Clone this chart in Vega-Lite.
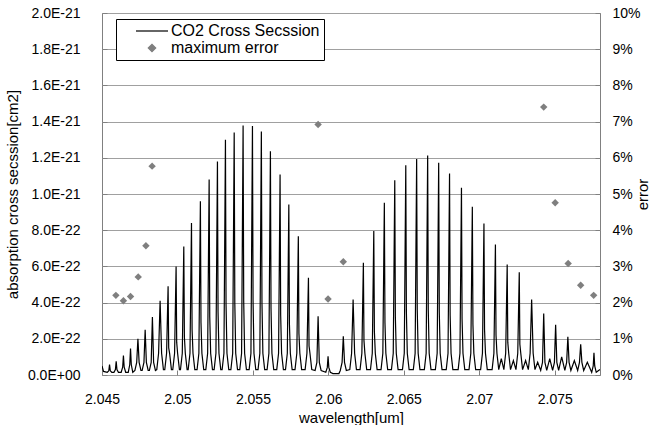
{
  "$schema": "https://vega.github.io/schema/vega-lite/v6.json",
  "width": 498,
  "height": 362,
  "autosize": "none",
  "padding": {"left": 102, "top": 13, "right": 60, "bottom": 50},
  "background": "white",
  "config": {
    "font": "Liberation Sans",
    "view": {"stroke": "#808080", "strokeWidth": 1},
    "axis": {"labelFont": "Liberation Sans", "titleFont": "Liberation Sans", "labelColor": "black", "titleColor": "black", "titleFontWeight": "normal", "domain": false},
    "legend": {"labelFont": "Liberation Sans"}
  },
  "datasets": {
    "spectrum": [
      {"wl":2.04500,"cs":0.05e-21},{"wl":2.04510,"cs":0.02e-21},
      {"wl":2.04535,"cs":0.015e-21},{"wl":2.04545,"cs":0.023e-21},{"wl":2.04550,"cs":0.058e-21},{"wl":2.04555,"cs":0.023e-21},{"wl":2.04565,"cs":0.015e-21},
      {"wl":2.04579,"cs":0.015e-21},{"wl":2.04589,"cs":0.03e-21},{"wl":2.04594,"cs":0.076e-21},{"wl":2.04599,"cs":0.03e-21},{"wl":2.04609,"cs":0.015e-21},
      {"wl":2.04627,"cs":0.015e-21},{"wl":2.04637,"cs":0.043e-21},{"wl":2.04642,"cs":0.108e-21},{"wl":2.04647,"cs":0.043e-21},{"wl":2.04657,"cs":0.015e-21},
      {"wl":2.04674,"cs":0.015e-21},{"wl":2.04684,"cs":0.058e-21},{"wl":2.04689,"cs":0.146e-21},{"wl":2.04694,"cs":0.058e-21},{"wl":2.04704,"cs":0.015e-21},
      {"wl":2.04718,"cs":0.025e-21},{"wl":2.04730,"cs":0.07e-21},{"wl":2.04738,"cs":0.2e-21},{"wl":2.04746,"cs":0.07e-21},{"wl":2.04758,"cs":0.025e-21},
      {"wl":2.04766,"cs":0.025e-21},{"wl":2.04778,"cs":0.07e-21},{"wl":2.04786,"cs":0.25e-21},{"wl":2.04794,"cs":0.07e-21},{"wl":2.04806,"cs":0.025e-21},
      {"wl":2.04814,"cs":0.025e-21},{"wl":2.04826,"cs":0.07e-21},{"wl":2.04834,"cs":0.32e-21},{"wl":2.04842,"cs":0.07e-21},{"wl":2.04854,"cs":0.025e-21},
      {"wl":2.04863,"cs":0.03e-21},{"wl":2.04875,"cs":0.12e-21},{"wl":2.04885,"cs":0.41e-21},{"wl":2.04895,"cs":0.12e-21},{"wl":2.04907,"cs":0.03e-21},
      {"wl":2.04916,"cs":0.03e-21},{"wl":2.04928,"cs":0.12e-21},{"wl":2.04938,"cs":0.49e-21},{"wl":2.04942,"cs":0.15e-21},{"wl":2.04948,"cs":0.12e-21},{"wl":2.04960,"cs":0.03e-21},
      {"wl":2.04969,"cs":0.03e-21},{"wl":2.04981,"cs":0.12e-21},{"wl":2.04991,"cs":0.6e-21},{"wl":2.04995,"cs":0.18e-21},{"wl":2.05001,"cs":0.12e-21},{"wl":2.05013,"cs":0.03e-21},
      {"wl":2.05020,"cs":0.03e-21},{"wl":2.05032,"cs":0.12e-21},{"wl":2.05042,"cs":0.71e-21},{"wl":2.05046,"cs":0.21e-21},{"wl":2.05052,"cs":0.12e-21},{"wl":2.05064,"cs":0.03e-21},
      {"wl":2.05071,"cs":0.03e-21},{"wl":2.05083,"cs":0.12e-21},{"wl":2.05093,"cs":0.84e-21},{"wl":2.05097,"cs":0.25e-21},{"wl":2.05103,"cs":0.12e-21},{"wl":2.05115,"cs":0.03e-21},
      {"wl":2.05130,"cs":0.03e-21},{"wl":2.05142,"cs":0.12e-21},{"wl":2.05152,"cs":0.96e-21},{"wl":2.05156,"cs":0.29e-21},{"wl":2.05162,"cs":0.12e-21},{"wl":2.05174,"cs":0.03e-21},
      {"wl":2.05188,"cs":0.03e-21},{"wl":2.05200,"cs":0.12e-21},{"wl":2.05210,"cs":1.08e-21},{"wl":2.05214,"cs":0.32e-21},{"wl":2.05220,"cs":0.12e-21},{"wl":2.05232,"cs":0.03e-21},
      {"wl":2.05243,"cs":0.03e-21},{"wl":2.05255,"cs":0.12e-21},{"wl":2.05265,"cs":1.18e-21},{"wl":2.05269,"cs":0.35e-21},{"wl":2.05275,"cs":0.12e-21},{"wl":2.05287,"cs":0.03e-21},
      {"wl":2.05296,"cs":0.03e-21},{"wl":2.05308,"cs":0.12e-21},{"wl":2.05318,"cs":1.3e-21},{"wl":2.05322,"cs":0.39e-21},{"wl":2.05328,"cs":0.12e-21},{"wl":2.05340,"cs":0.03e-21},
      {"wl":2.05354,"cs":0.03e-21},{"wl":2.05366,"cs":0.12e-21},{"wl":2.05376,"cs":1.34e-21},{"wl":2.05380,"cs":0.4e-21},{"wl":2.05386,"cs":0.12e-21},{"wl":2.05398,"cs":0.03e-21},
      {"wl":2.05413,"cs":0.03e-21},{"wl":2.05425,"cs":0.12e-21},{"wl":2.05435,"cs":1.378e-21},{"wl":2.05439,"cs":0.41e-21},{"wl":2.05445,"cs":0.12e-21},{"wl":2.05457,"cs":0.03e-21},
      {"wl":2.05475,"cs":0.03e-21},{"wl":2.05487,"cs":0.12e-21},{"wl":2.05497,"cs":1.375e-21},{"wl":2.05501,"cs":0.41e-21},{"wl":2.05507,"cs":0.12e-21},{"wl":2.05519,"cs":0.03e-21},
      {"wl":2.05534,"cs":0.03e-21},{"wl":2.05546,"cs":0.12e-21},{"wl":2.05556,"cs":1.345e-21},{"wl":2.05560,"cs":0.4e-21},{"wl":2.05566,"cs":0.12e-21},{"wl":2.05578,"cs":0.03e-21},
      {"wl":2.05594,"cs":0.03e-21},{"wl":2.05606,"cs":0.12e-21},{"wl":2.05616,"cs":1.236e-21},{"wl":2.05620,"cs":0.37e-21},{"wl":2.05626,"cs":0.12e-21},{"wl":2.05638,"cs":0.03e-21},
      {"wl":2.05658,"cs":0.03e-21},{"wl":2.05670,"cs":0.12e-21},{"wl":2.05680,"cs":1.108e-21},{"wl":2.05684,"cs":0.33e-21},{"wl":2.05690,"cs":0.12e-21},{"wl":2.05702,"cs":0.03e-21},
      {"wl":2.05716,"cs":0.03e-21},{"wl":2.05728,"cs":0.12e-21},{"wl":2.05738,"cs":0.942e-21},{"wl":2.05742,"cs":0.28e-21},{"wl":2.05748,"cs":0.12e-21},{"wl":2.05760,"cs":0.03e-21},
      {"wl":2.05779,"cs":0.03e-21},{"wl":2.05791,"cs":0.12e-21},{"wl":2.05801,"cs":0.767e-21},{"wl":2.05805,"cs":0.23e-21},{"wl":2.05811,"cs":0.12e-21},{"wl":2.05823,"cs":0.03e-21},
      {"wl":2.05846,"cs":0.03e-21},{"wl":2.05858,"cs":0.12e-21},{"wl":2.05868,"cs":0.537e-21},{"wl":2.05872,"cs":0.16e-21},{"wl":2.05878,"cs":0.12e-21},{"wl":2.05890,"cs":0.03e-21},
      {"wl":2.05912,"cs":0.025e-21},{"wl":2.05924,"cs":0.07e-21},{"wl":2.05932,"cs":0.325e-21},{"wl":2.05940,"cs":0.07e-21},{"wl":2.05952,"cs":0.025e-21},
      {"wl":2.05983,"cs":0.015e-21},{"wl":2.05993,"cs":0.042e-21},{"wl":2.05998,"cs":0.104e-21},{"wl":2.06003,"cs":0.042e-21},{"wl":2.06013,"cs":0.015e-21},
      {"wl":2.06030,"cs":0.008e-21},{"wl":2.06070,"cs":0.008e-21},
      {"wl":2.06079,"cs":0.025e-21},{"wl":2.06091,"cs":0.07e-21},{"wl":2.06099,"cs":0.214e-21},{"wl":2.06107,"cs":0.07e-21},{"wl":2.06119,"cs":0.025e-21},
      {"wl":2.06142,"cs":0.03e-21},{"wl":2.06154,"cs":0.12e-21},{"wl":2.06164,"cs":0.417e-21},{"wl":2.06174,"cs":0.12e-21},{"wl":2.06186,"cs":0.03e-21},
      {"wl":2.06210,"cs":0.03e-21},{"wl":2.06222,"cs":0.12e-21},{"wl":2.06232,"cs":0.62e-21},{"wl":2.06236,"cs":0.19e-21},{"wl":2.06242,"cs":0.12e-21},{"wl":2.06254,"cs":0.03e-21},
      {"wl":2.06279,"cs":0.03e-21},{"wl":2.06291,"cs":0.12e-21},{"wl":2.06301,"cs":0.795e-21},{"wl":2.06305,"cs":0.24e-21},{"wl":2.06311,"cs":0.12e-21},{"wl":2.06323,"cs":0.03e-21},
      {"wl":2.06349,"cs":0.03e-21},{"wl":2.06361,"cs":0.12e-21},{"wl":2.06371,"cs":0.951e-21},{"wl":2.06375,"cs":0.29e-21},{"wl":2.06381,"cs":0.12e-21},{"wl":2.06393,"cs":0.03e-21},
      {"wl":2.06418,"cs":0.03e-21},{"wl":2.06430,"cs":0.12e-21},{"wl":2.06440,"cs":1.076e-21},{"wl":2.06444,"cs":0.32e-21},{"wl":2.06450,"cs":0.12e-21},{"wl":2.06462,"cs":0.03e-21},
      {"wl":2.06491,"cs":0.03e-21},{"wl":2.06503,"cs":0.12e-21},{"wl":2.06513,"cs":1.159e-21},{"wl":2.06517,"cs":0.35e-21},{"wl":2.06523,"cs":0.12e-21},{"wl":2.06535,"cs":0.03e-21},
      {"wl":2.06563,"cs":0.03e-21},{"wl":2.06575,"cs":0.12e-21},{"wl":2.06585,"cs":1.194e-21},{"wl":2.06589,"cs":0.36e-21},{"wl":2.06595,"cs":0.12e-21},{"wl":2.06607,"cs":0.03e-21},
      {"wl":2.06636,"cs":0.03e-21},{"wl":2.06648,"cs":0.12e-21},{"wl":2.06658,"cs":1.213e-21},{"wl":2.06662,"cs":0.36e-21},{"wl":2.06668,"cs":0.12e-21},{"wl":2.06680,"cs":0.03e-21},
      {"wl":2.06709,"cs":0.03e-21},{"wl":2.06721,"cs":0.12e-21},{"wl":2.06731,"cs":1.172e-21},{"wl":2.06735,"cs":0.35e-21},{"wl":2.06741,"cs":0.12e-21},{"wl":2.06753,"cs":0.03e-21},
      {"wl":2.06781,"cs":0.03e-21},{"wl":2.06793,"cs":0.12e-21},{"wl":2.06803,"cs":1.113e-21},{"wl":2.06807,"cs":0.33e-21},{"wl":2.06813,"cs":0.12e-21},{"wl":2.06825,"cs":0.03e-21},
      {"wl":2.06860,"cs":0.03e-21},{"wl":2.06872,"cs":0.12e-21},{"wl":2.06882,"cs":1.034e-21},{"wl":2.06886,"cs":0.31e-21},{"wl":2.06892,"cs":0.12e-21},{"wl":2.06904,"cs":0.03e-21},
      {"wl":2.06932,"cs":0.03e-21},{"wl":2.06944,"cs":0.12e-21},{"wl":2.06954,"cs":0.929e-21},{"wl":2.06958,"cs":0.28e-21},{"wl":2.06964,"cs":0.12e-21},{"wl":2.06976,"cs":0.03e-21},
      {"wl":2.07009,"cs":0.03e-21},{"wl":2.07021,"cs":0.12e-21},{"wl":2.07031,"cs":0.837e-21},{"wl":2.07035,"cs":0.25e-21},{"wl":2.07041,"cs":0.12e-21},{"wl":2.07053,"cs":0.03e-21},
      {"wl":2.07085,"cs":0.03e-21},{"wl":2.07097,"cs":0.12e-21},{"wl":2.07107,"cs":0.721e-21},{"wl":2.07111,"cs":0.22e-21},{"wl":2.07117,"cs":0.12e-21},{"wl":2.07129,"cs":0.03e-21},
      {"wl":2.07146,"cs":0.09e-21},
      {"wl":2.07163,"cs":0.03e-21},{"wl":2.07175,"cs":0.12e-21},{"wl":2.07185,"cs":0.61e-21},{"wl":2.07189,"cs":0.18e-21},{"wl":2.07195,"cs":0.12e-21},{"wl":2.07207,"cs":0.03e-21},
      {"wl":2.07226,"cs":0.08e-21},
      {"wl":2.07243,"cs":0.03e-21},{"wl":2.07255,"cs":0.12e-21},{"wl":2.07265,"cs":0.568e-21},{"wl":2.07269,"cs":0.17e-21},{"wl":2.07275,"cs":0.12e-21},{"wl":2.07287,"cs":0.03e-21},
      {"wl":2.07307,"cs":0.08e-21},
      {"wl":2.07325,"cs":0.03e-21},{"wl":2.07337,"cs":0.12e-21},{"wl":2.07347,"cs":0.417e-21},{"wl":2.07357,"cs":0.12e-21},{"wl":2.07369,"cs":0.03e-21},
      {"wl":2.07387,"cs":0.07e-21},
      {"wl":2.07407,"cs":0.025e-21},{"wl":2.07419,"cs":0.07e-21},{"wl":2.07427,"cs":0.34e-21},{"wl":2.07435,"cs":0.07e-21},{"wl":2.07447,"cs":0.025e-21},
      {"wl":2.07467,"cs":0.09e-21},
      {"wl":2.07486,"cs":0.025e-21},{"wl":2.07498,"cs":0.07e-21},{"wl":2.07506,"cs":0.277e-21},{"wl":2.07514,"cs":0.07e-21},{"wl":2.07526,"cs":0.025e-21},
      {"wl":2.07546,"cs":0.1e-21},
      {"wl":2.07567,"cs":0.025e-21},{"wl":2.07579,"cs":0.07e-21},{"wl":2.07587,"cs":0.211e-21},{"wl":2.07595,"cs":0.07e-21},{"wl":2.07607,"cs":0.025e-21},
      {"wl":2.07630,"cs":0.08e-21},
      {"wl":2.07652,"cs":0.025e-21},{"wl":2.07664,"cs":0.07e-21},{"wl":2.07672,"cs":0.169e-21},{"wl":2.07680,"cs":0.07e-21},{"wl":2.07692,"cs":0.025e-21},
      {"wl":2.07716,"cs":0.07e-21},
      {"wl":2.07745,"cs":0.015e-21},{"wl":2.07755,"cs":0.05e-21},{"wl":2.07760,"cs":0.123e-21},{"wl":2.07765,"cs":0.05e-21},{"wl":2.07775,"cs":0.015e-21},
      {"wl":2.07800,"cs":0.03e-21}
    ],
    "errors": [
      {"wl":2.04592,"err":0.0220},
      {"wl":2.04642,"err":0.0205},
      {"wl":2.04689,"err":0.0217},
      {"wl":2.04740,"err":0.0271},
      {"wl":2.04791,"err":0.0357},
      {"wl":2.04832,"err":0.0577},
      {"wl":2.05932,"err":0.0692},
      {"wl":2.05998,"err":0.0210},
      {"wl":2.06099,"err":0.0313},
      {"wl":2.07427,"err":0.0740},
      {"wl":2.07503,"err":0.0476},
      {"wl":2.07589,"err":0.0308},
      {"wl":2.07672,"err":0.0248},
      {"wl":2.07758,"err":0.0220}
    ]
  },
  "encoding": {
    "x": {
      "field": "wl", "type": "quantitative",
      "scale": {"domain": [2.045, 2.078], "nice": false, "zero": false},
      "axis": {
        "title": "wavelength[um]", "titleFontSize": 15, "titlePadding": 4,
        "values": [2.045, 2.05, 2.055, 2.06, 2.065, 2.07, 2.075],
        "format": "~g", "labelFontSize": 14, "grid": false,
        "ticks": true, "tickSize": -5, "tickColor": "#808080", "labelPadding": 22,
        "labelFlush": false
      }
    }
  },
  "layer": [
    {
      "data": {"name": "spectrum"},
      "mark": {"type": "line", "strokeWidth": 1.2, "clip": true},
      "encoding": {
        "y": {
          "field": "cs", "type": "quantitative",
          "scale": {"domain": [0, 2e-21], "nice": false},
          "axis": {
            "title": "absorption cross secssion[cm2]", "titleFontSize": 15, "titlePadding": 7,
            "values": [0, 2e-22, 4e-22, 6e-22, 8e-22, 1e-21, 1.2e-21, 1.4e-21, 1.6e-21, 1.8e-21, 2e-21],
            "labelExpr": "datum.value == 0 ? '0.0E+00' : (datum.value < 9.5e-22 ? format(datum.value * 1e22, '.1f') + 'E-22' : format(datum.value * 1e21, '.1f') + 'E-21')",
            "labelFontSize": 14, "grid": true, "gridColor": "#a0a0a0", "gridWidth": 1,
            "ticks": true, "tickSize": -5, "tickColor": "#808080", "labelPadding": 27
          }
        },
        "color": {
          "datum": "CO2 Cross Secssion",
          "type": "nominal",
          "scale": {"domain": ["CO2 Cross Secssion", "maximum error"], "range": ["black", "#7f7f7f"]},
          "legend": {
            "title": null, "orient": "none", "legendX": 14, "legendY": 6,
            "fillColor": "white", "strokeColor": "black", "padding": 4,
            "labelFontSize": 16, "labelColor": "black", "symbolSize": 100,
            "symbolOffset": 24, "labelOffset": 11, "rowPadding": 1,
            "encode": {
              "symbols": {
                "update": {
                  "shape": {"signal": "datum.value === 'maximum error' ? 'diamond' : 'M-3.2,0H3.2'"},
                  "size": {"signal": "datum.value === 'maximum error' ? 55 : 100"},
                  "fill": {"signal": "datum.value === 'maximum error' ? '#7f7f7f' : 'transparent'"},
                  "stroke": {"signal": "datum.value === 'maximum error' ? 'transparent' : 'black'"},
                  "strokeWidth": {"value": 1.2},
                  "opacity": {"value": 1}
                }
              }
            }
          }
        }
      }
    },
    {
      "data": {"name": "errors"},
      "mark": {"type": "point", "shape": "diamond", "filled": true, "size": 55, "opacity": 1},
      "encoding": {
        "y": {
          "field": "err", "type": "quantitative",
          "scale": {"domain": [0, 0.1], "nice": false},
          "axis": {
            "orient": "right", "title": "error", "titleFontSize": 15, "titleAngle": -90, "titlePadding": 10,
            "values": [0, 0.01, 0.02, 0.03, 0.04, 0.05, 0.06, 0.07, 0.08, 0.09, 0.1],
            "format": ".0%", "labelFontSize": 14, "grid": false,
            "ticks": true, "tickSize": -5, "tickColor": "#808080", "labelPadding": 17
          }
        },
        "color": {"datum": "maximum error", "type": "nominal"}
      }
    }
  ],
  "resolve": {"scale": {"y": "independent"}}
}
